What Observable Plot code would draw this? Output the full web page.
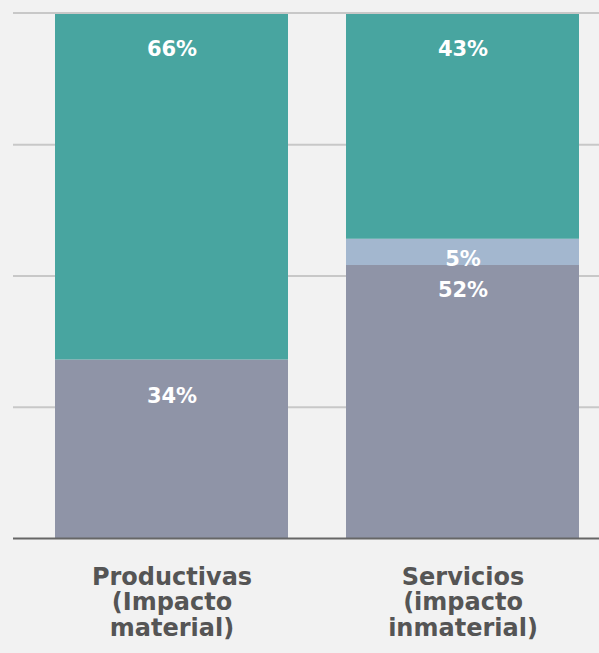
<!DOCTYPE html>
<html>
<head>
<meta charset="utf-8">
<script src="https://cdn.jsdelivr.net/npm/d3@7"></script>
<script src="https://cdn.jsdelivr.net/npm/@observablehq/plot@0.6"></script>
<style>
  html, body { margin: 0; padding: 0; background: #f2f2f2; }
  #chart svg { display: block; }
</style>
</head>
<body>
<div id="chart"></div>
<script>
const categories = ["Productivas\n(Impacto\nmaterial)", "Servicios\n(impacto\ninmaterial)"];
const segments = ["Base", "Intermedio", "Superior"];
const productivasValues = [34, 0, 66];
const serviciosValues = [52, 5, 43];
const gridTicks = [0, 25, 50, 75, 100];
const segmentColors = ["#8f94a7", "#a3b7cf", "#48a5a0"];

const valuesByCategory = [productivasValues, serviciosValues];
const rows = [];
categories.forEach((c, ci) => {
  let cum = 0;
  segments.forEach((s, si) => {
    const v = valuesByCategory[ci][si];
    cum += v;
    rows.push({category: c, segment: s, value: v, order: si, top: cum});
  });
});

const labelRows = rows.filter(d => d.value > 0);
const smallAbove = (d) => {
  const next = rows.find(r => r.category === d.category && r.order === d.order + 1);
  return next && next.value > 0 && next.value < 10;
};
const normalLabels = labelRows.filter(d => d.value >= 10 && !smallAbove(d));
const belowSmallLabels = labelRows.filter(d => d.value >= 10 && smallAbove(d));
const smallLabels = labelRows.filter(d => d.value < 10);

const font = "'DejaVu Sans', sans-serif";
const labelMark = (data, dy) => Plot.text(data, {
  x: "category", y: "top",
  text: d => d.value + "%", dy, fill: "white", fontSize: 21, fontWeight: 700,
  fontFamily: font
});

const chart = Plot.plot({
  width: 599,
  height: 653,
  marginLeft: 13,
  marginRight: 0,
  marginTop: 13,
  marginBottom: 115,
  style: {background: "#f2f2f2", fontFamily: font},
  x: {domain: categories, paddingInner: 0.1993, paddingOuter: 0.1065, align: 0.677, label: null},
  y: {domain: [0, 100], label: null, axis: null},
  color: {domain: segments, range: segmentColors},
  marks: [
    Plot.ruleY(gridTicks.filter(t => t > 0 && t < 100), {stroke: "#c8c8c8", strokeWidth: 2}),
    Plot.barY(rows, {x: "category", y: "value", fill: "segment", order: "order"}),
    Plot.ruleY(gridTicks.filter(t => t === 100), {stroke: "#c8c8c8", strokeWidth: 2, dy: -0.5}),
    Plot.ruleY([0], {stroke: "#666", strokeWidth: 2}),
    labelMark(normalLabels, 36),
    labelMark(belowSmallLabels, 25),
    labelMark(smallLabels, 20),
    Plot.axisX({tickSize: 0, tickPadding: 28, fontSize: 24, fontWeight: 700, fill: "#555",
      lineHeight: 1.07, fontFamily: font})
  ]
});
document.getElementById("chart").appendChild(chart);
</script>
</body>
</html>
